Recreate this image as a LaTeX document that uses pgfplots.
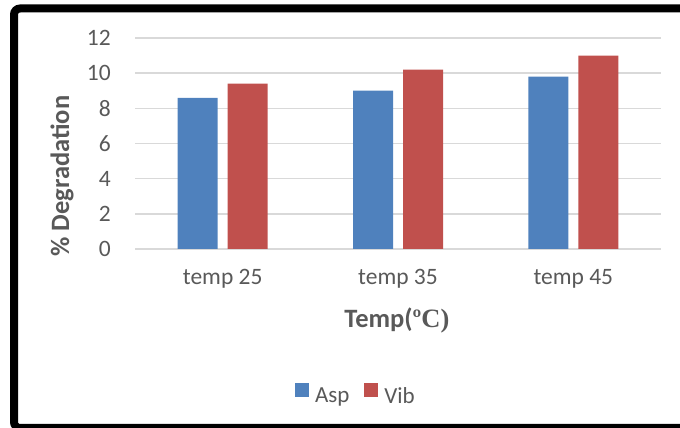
\documentclass[border=0pt]{standalone}
\usepackage{fontspec}
\setmainfont{Carlito}
\newfontfamily\degfont{Liberation Serif}
\usepackage{pgfplots}
\pgfplotsset{compat=1.18}
\definecolor{aspblue}{HTML}{4F81BD}
\definecolor{vibred}{HTML}{C0504D}
\definecolor{txtgrey}{HTML}{595959}
\definecolor{gridgrey}{HTML}{D9D9D9}
\begin{document}
\begin{tikzpicture}[x=1pt,y=1pt]
\begin{axis}[
  at={(135pt,179pt)}, anchor=south west,
  scale only axis, width=526pt, height=211pt,
  xmin=-0.5, xmax=2.5, ymin=0, ymax=12,
  ybar=10pt, bar width=40pt,
  xtick={0,1,2}, xticklabels={temp 25,temp 35,temp 45},
  ytick={0,2,...,12},
  axis line style={draw=none},
  major tick length=0pt,
  ymajorgrids, grid style={gridgrey, line width=1.4pt},
  /pgf/number format/assume math mode=true,
  tick label style={font=\fontsize{23.5}{28}\selectfont, text=txtgrey},
  yticklabel style={inner sep=0pt, anchor=east, xshift=-24pt},
  xticklabel style={inner sep=0pt, anchor=base, yshift=-36pt},
  ylabel={\% Degradation},
  ylabel style={at={(axis description cs:-0.1388,0.346)}, anchor=center,
    font=\fontsize{26.5}{31}\selectfont\bfseries, text=txtgrey},
  xlabel={Temp(\degfont ºC)},
  xlabel style={at={(axis description cs:0.498,-0.370)}, anchor=base,
    font=\fontsize{26.5}{31}\selectfont\bfseries, text=txtgrey},
  legend columns=2,
  legend style={at={(axis description cs:0.420,-0.692)}, anchor=center,
    draw=none, font=\fontsize{23}{27}\selectfont, text=txtgrey,
    /tikz/every odd column/.append style={column sep=4pt},
    /tikz/every even column/.append style={column sep=13pt}},
  legend image code/.code={\fill[#1] (0pt,-1pt) rectangle (14pt,13pt);},
]
\addplot[fill=aspblue, draw=none] coordinates {(0,8.6) (1,9.0) (2,9.8)};
\addplot[fill=vibred, draw=none] coordinates {(0,9.4) (1,10.2) (2,11.0)};
\legend{Asp, Vib}
\end{axis}
% outer frame, open towards the right
\draw[line width=8pt, rounded corners=6pt]
  (740,0) -- (14,0) -- (14,419.5) -- (740,419.5);
\pgfresetboundingbox
\path[use as bounding box] (0,0) rectangle (680,428);
\end{tikzpicture}
\end{document}
